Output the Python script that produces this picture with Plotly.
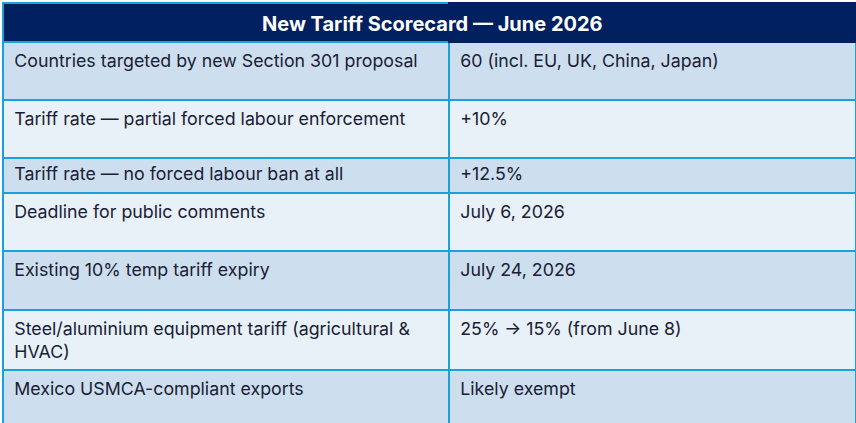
import plotly.graph_objects as go

TITLE = "New Tariff Scorecard — June 2026"

ITEMS = [
    "Countries targeted by new Section 301 proposal",
    "Tariff rate — partial forced labour enforcement",
    "Tariff rate — no forced labour ban at all",
    "Deadline for public comments",
    "Existing 10% temp tariff expiry",
    "Steel/aluminium equipment tariff (agricultural &<br>HVAC)",
    "Mexico USMCA-compliant exports",
]
DETAILS = [
    "60 (incl. EU, UK, China, Japan)",
    "+10%",
    "+12.5%",
    "July 6, 2026",
    "July 24, 2026",
    "25% → 15% (from June 8)",
    "Likely exempt",
]

# how many text lines each row is tall (rows in the source have uneven heights)
ROW_LINES = [2, 2, 1, 2, 2, 2, 2]

NAVY = "#002060"
BORDER = "#1aa1db"
ROW_DARK = "#cddfee"
ROW_LIGHT = "#e8f0f8"
TEXT = "#1a2035"
FONT = "Inter"
INDENT = "\u2009"  # a little extra left padding, plotly's cell pad is fixed
# filler line used to make a row taller; smaller font trims the row a bit
FILLER = "<br><span style='font-size:8px'> </span>"


def pad(text, lines):
    have = text.count("<br>") + 1
    text = INDENT + text.replace("<br>", "<br>" + INDENT)
    return text + FILLER * max(0, lines - have)


left = [pad(t, n) for t, n in zip(ITEMS, ROW_LINES)]
right = [pad(t, n) for t, n in zip(DETAILS, ROW_LINES)]
fills = [ROW_DARK if i % 2 == 0 else ROW_LIGHT for i in range(len(ITEMS))]

fig = go.Figure(
    go.Table(
        columnwidth=[446, 407],
        header=dict(
            values=["", ""],
            fill_color=NAVY,
            # second header cell outlined in navy so the title row reads as one merged cell
            line=dict(color=[BORDER, NAVY], width=2),
            height=39,
        ),
        cells=dict(
            values=[left, right],
            fill_color=[fills, fills],
            line=dict(color=BORDER, width=2),
            font=dict(family=FONT, size=17.8, color=TEXT),
            align="left",
            height=35,
        ),
    )
)

fig.add_annotation(
    text=f"<b>{TITLE}</b>",
    x=0.503,
    y=0.950,
    xref="paper",
    yref="paper",
    xanchor="center",
    yanchor="middle",
    showarrow=False,
    font=dict(family=FONT, size=20, color="white"),
)

fig.update_layout(
    width=856,
    height=423,
    margin=dict(l=3, r=0, t=3, b=0),
    paper_bgcolor="white",
)

fig.write_html(
    "out.html",
    config={"displayModeBar": False},
    post_script="document.body.style.margin = '0';",
)
